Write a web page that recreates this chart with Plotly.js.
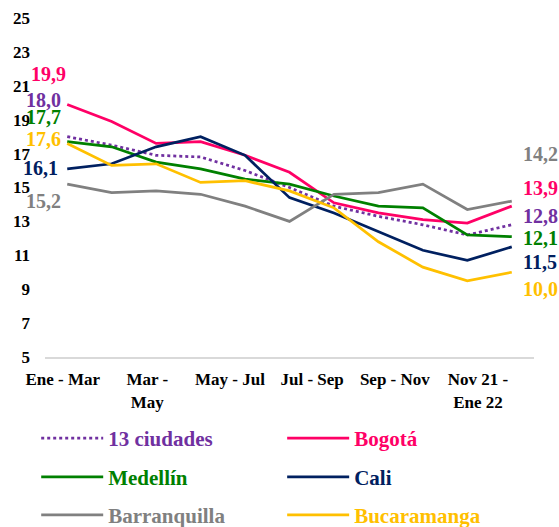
<!DOCTYPE html>
<html>
<head>
<meta charset="utf-8">
<script src="https://cdn.plot.ly/plotly-3.0.1.min.js"></script>
<style>html,body{margin:0;padding:0;background:#fff;}#chart{width:559px;height:527px;}</style>
</head>
<body>
<div id="chart"></div>
<script>
// Rolling quarters (trimestres móviles)
const categories = ['Ene - Mar','Feb - Abr','Mar - May','Abr - Jun','May - Jul','Jun - Ago','Jul - Sep','Ago - Oct','Sep - Nov','Oct - Dic','Nov 21 - Ene 22'];
const tickLabels = ['Ene - Mar','Mar -<br>May','May - Jul','Jul - Sep','Sep - Nov','Nov 21 -<br>Ene 22'];
const yTicks = [5,7,9,11,13,15,17,19,21,23,25];

const seriesNames = ['13 ciudades','Bogotá','Medellín','Cali','Barranquilla','Bucaramanga'];
const ciudades13   = [18.0,17.5,16.9,16.8,16.0,15.0,13.9,13.3,12.8,12.2,12.8];
const bogota       = [19.9,18.9,17.6,17.7,16.9,15.9,14.1,13.5,13.1,12.9,13.9];
const medellin     = [17.7,17.4,16.5,16.1,15.5,15.2,14.5,13.9,13.8,12.2,12.1];
const cali         = [16.1,16.4,17.4,18.0,16.9,14.4,13.5,12.4,11.3,10.7,11.5];
const barranquilla = [15.2,14.7,14.8,14.6,13.9,13.0,14.6,14.7,15.2,13.7,14.2];
const bucaramanga  = [17.6,16.3,16.4,15.3,15.4,14.8,13.8,11.8,10.3,9.5,10.0];

const allSeries = [ciudades13,bogota,medellin,cali,barranquilla,bucaramanga];
const colors = ['#7030A0','#FF0066','#008000','#002060','#808080','#FFC000'];
const dashes = ['dot','solid','solid','solid','solid','solid'];

const FONT = 'Liberation Serif, DejaVu Serif, serif';
const xIdx = categories.map((c,i)=>i);

// legend placement: one legend per entry (3 rows x 2 columns)
const legX = [-0.018, 0.485];
const legY = [-0.24, -0.355, -0.467];
const legendIds = ['legend','legend2','legend3','legend4','legend5','legend6'];

const traces = allSeries.map((vals,k)=>({
  type:'scatter', mode:'lines',
  x:xIdx, y:vals, text:categories,
  name:'<span style="color:'+colors[k]+'">'+seriesNames[k]+'</span>',
  line:{color:colors[k], width:2.75, dash:dashes[k]},
  legend: legendIds[k],
  hovertemplate:'%{text}: %{y:.1f}<extra>'+seriesNames[k]+'</extra>'
}));

function fmt(v){ return v.toFixed(1).replace('.',','); }

// label offsets (style only)
const leftShift = [[-4,37],[1,30],[-4,25],[-7,1],[-4,-17],[-4,4]];
const rightShift = [[9,9],[9,18],[9,-1],[9,-15],[9,47],[9,-17]];
const annotations = [];
allSeries.forEach((vals,k)=>{
  annotations.push({x:0, y:vals[0], xref:'x', yref:'y', text:fmt(vals[0]), showarrow:false,
    xanchor:'right', yanchor:'middle', xshift:leftShift[k][0], yshift:leftShift[k][1],
    font:{family:FONT, size:20, color:colors[k], weight:'bold'}});
  const n = vals.length-1;
  annotations.push({x:n, y:vals[n], xref:'x', yref:'y', text:fmt(vals[n]), showarrow:false,
    xanchor:'left', yanchor:'middle', xshift:rightShift[k][0], yshift:rightShift[k][1],
    font:{family:FONT, size:20, color:colors[k], weight:'bold'}});
});

const layout = {
  width:559, height:527,
  margin:{l:45, r:25, t:18, b:170, autoexpand:false},
  paper_bgcolor:'#fff', plot_bgcolor:'#fff',
  font:{family:FONT, size:17, color:'#000', weight:'bold'},
  xaxis:{type:'linear', range:[-0.5,10.5], tickmode:'array',
    tickvals:[-0.1,1.8,3.66,5.51,7.37,9.24], ticktext:tickLabels,
    showgrid:false, zeroline:false, showline:true, linecolor:'#d9d9d9', linewidth:2,
    ticks:'', ticklabelstandoff:6, automargin:false, tickfont:{family:FONT, size:17, color:'#000', weight:'bold'}},
  yaxis:{range:[5,25], tickmode:'array', tickvals:yTicks, showgrid:false, zeroline:false,
    showline:false, ticks:'', ticklabelstandoff:14, automargin:false,
    tickfont:{family:FONT, size:17, color:'#000', weight:'bold'}},
  showlegend:true,
  annotations:annotations
};
legendIds.forEach((id,k)=>{
  layout[id] = {x:legX[k%2], y:legY[Math.floor(k/2)], xanchor:'left', yanchor:'middle',
    orientation:'h', bgcolor:'rgba(0,0,0,0)', itemwidth:62,
    font:{family:FONT, size:21, weight:'bold'}};
});

Plotly.newPlot('chart', traces, layout, {displayModeBar:false, responsive:false});
</script>
</body>
</html>
